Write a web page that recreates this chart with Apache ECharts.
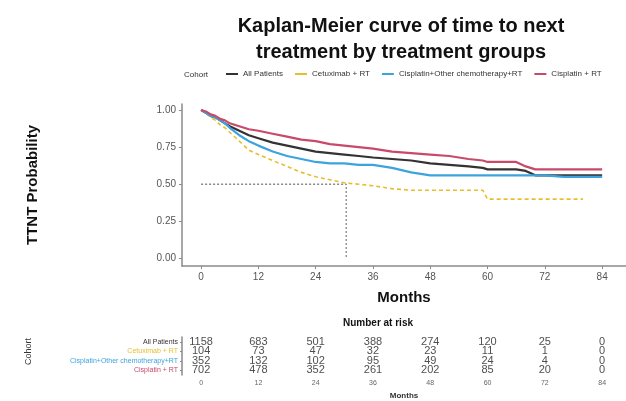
<!DOCTYPE html>
<html>
<head>
<meta charset="utf-8">
<script src="https://cdn.jsdelivr.net/npm/echarts@6/dist/echarts.min.js"></script>
<style>
  html, body { margin: 0; padding: 0; background: #fff; }
</style>
</head>
<body>
<div id="km" style="width: 626px; height: 401px"></div>
<script>
  // cohort names and colours
  const cohorts = ["All Patients", "Cetuximab + RT", "Cisplatin+Other chemotherapy+RT", "Cisplatin + RT"];
  const cohortColors = ["#333333", "#e6be2e", "#3ca3de", "#c84a6a"];

  // months where the curves are read
  const months = [0, 1, 2, 3, 4, 5, 6, 8, 10, 12, 15, 18, 21, 24, 27, 30, 33, 36, 40, 44, 48, 52, 56, 59, 60, 64, 66, 68, 70, 72, 76, 80, 84];
  const allPatients = [1, 0.98, 0.96, 0.95, 0.93, 0.91, 0.89, 0.86, 0.83, 0.81, 0.78, 0.76, 0.74, 0.72, 0.71, 0.70, 0.69, 0.68, 0.67, 0.66, 0.64, 0.63, 0.62, 0.61, 0.60, 0.60, 0.60, 0.59, 0.56, 0.56, 0.56, 0.56, 0.56];
  const cetuximab = [1, 0.98, 0.95, 0.93, 0.90, 0.88, 0.85, 0.79, 0.73, 0.70, 0.66, 0.62, 0.58, 0.55, 0.53, 0.51, 0.50, 0.49, 0.47, 0.46, 0.46, 0.46, 0.46, 0.46, 0.40, 0.40, 0.40, 0.40, 0.40, 0.40, 0.40, 0.40];
  const cisOther = [1, 0.98, 0.96, 0.95, 0.93, 0.91, 0.88, 0.83, 0.79, 0.76, 0.72, 0.69, 0.67, 0.65, 0.64, 0.64, 0.63, 0.63, 0.61, 0.58, 0.56, 0.56, 0.56, 0.56, 0.56, 0.56, 0.56, 0.56, 0.56, 0.56, 0.55, 0.55, 0.55];
  const cisplatin = [1, 0.99, 0.97, 0.96, 0.94, 0.93, 0.91, 0.89, 0.87, 0.86, 0.84, 0.82, 0.80, 0.79, 0.77, 0.76, 0.75, 0.74, 0.72, 0.71, 0.70, 0.69, 0.67, 0.66, 0.65, 0.65, 0.65, 0.62, 0.60, 0.60, 0.60, 0.60, 0.60];

  // median guide (dotted)
  const medianPts = [[0, 0.5], [30.4, 0.5], [30.4, 0]];

  // number at risk table
  const riskMonths = [0, 12, 24, 36, 48, 60, 72, 84];
  const riskAll = [1158, 683, 501, 388, 274, 120, 25, 0];
  const riskCetux = [104, 73, 47, 32, 23, 11, 1, 0];
  const riskCisOther = [352, 132, 102, 95, 49, 24, 4, 0];
  const riskCis = [702, 478, 352, 261, 202, 85, 20, 0];

  const xTicks = [0, 12, 24, 36, 48, 60, 72, 84];
  const yTicks = [0, 0.25, 0.5, 0.75, 1];

  const curves = [allPatients, cetuximab, cisOther, cisplatin];
  const risks = [riskAll, riskCetux, riskCisOther, riskCis];

  const font = "Liberation Sans";
  var myChart = echarts.init(document.getElementById("km"));

  var series = [];
  for (let i = 0; i < curves.length; i++) {
    let pts = [];
    for (let j = 0; j < curves[i].length; j++) {
      pts.push([months[j], curves[i][j]]);
    }
    series.push({
      name: cohorts[i],
      type: "line",
      symbol: "none",
      xAxisIndex: 0,
      yAxisIndex: 0,
      data: pts,
      z: 3 + i,
      lineStyle: {
        color: cohortColors[i],
        width: i == 1 ? 1.6 : 2.2,
        type: i == 1 ? [4, 3] : "solid",
      },
      itemStyle: { color: cohortColors[i] },
    });
  }
  series.push({
    type: "line",
    symbol: "none",
    xAxisIndex: 0,
    yAxisIndex: 0,
    data: medianPts,
    z: 2,
    lineStyle: { color: "#888", width: 1.3, type: [2, 2] },
    silent: true,
  });
  for (let i = 0; i < risks.length; i++) {
    let pts = [];
    for (let j = 0; j < riskMonths.length; j++) {
      pts.push([riskMonths[j], cohorts[i], risks[i][j]]);
    }
    series.push({
      type: "scatter",
      xAxisIndex: 1,
      yAxisIndex: 1,
      symbolSize: 0,
      data: pts,
      label: {
        show: true,
        position: "inside",
        formatter: (p) => String(p.value[2]),
        color: "#222",
        fontSize: 11,
        fontFamily: font,
      },
    });
  }

  myChart.setOption({
    animation: false,
    title: {
      text: "Kaplan-Meier curve of time to next\ntreatment by treatment groups",
      left: 396,
      top: 8,
      textAlign: "center",
      textStyle: { fontSize: 20, fontWeight: "bold", color: "#111", fontFamily: font, lineHeight: 26 },
    },
    legend: {
      data: cohorts,
      left: 226,
      top: 70,
      padding: 0,
      icon: "rect",
      itemWidth: 12,
      itemHeight: 2,
      itemGap: 12,
      textStyle: { fontSize: 8, color: "#333", fontFamily: font },
    },
    graphic: [
      {
        type: "text",
        left: 184,
        top: 71,
        style: { text: "Cohort", fontSize: 8, fill: "#333", fontFamily: font },
      },
      {
        type: "text",
        left: 343,
        top: 318,
        style: { text: "Number at risk", fontSize: 10, fontWeight: "bold", fill: "#111", fontFamily: font },
      },
      {
        type: "text",
        left: 24,
        top: 338,
        rotation: Math.PI / 2,
        style: { text: "Cohort", fontSize: 9, fill: "#333", fontFamily: font },
      },
    ],
    grid: [
      { left: 182, right: 0, top: 104, height: 162 },
      { left: 182, right: 0, top: 337, height: 43 },
    ],
    xAxis: [
      {
        gridIndex: 0,
        type: "value",
        min: -4,
        max: 89,
        name: "Months",
        nameLocation: "middle",
        nameGap: 24,
        nameTextStyle: { fontSize: 15, fontWeight: "bold", color: "#111", fontFamily: font },
        splitLine: { show: false },
        axisLine: { onZero: false, lineStyle: { color: "#8a8a8a", width: 1.5 } },
        axisTick: { customValues: xTicks, length: 3, lineStyle: { color: "#8a8a8a" } },
        axisLabel: { customValues: xTicks, fontSize: 10, color: "#555", margin: 6, fontFamily: font },
      },
      {
        gridIndex: 1,
        type: "value",
        min: -4,
        max: 89,
        name: "Months",
        nameLocation: "middle",
        nameGap: 17,
        nameTextStyle: { fontSize: 8, fontWeight: "bold", color: "#333", fontFamily: font },
        splitLine: { show: false },
        axisLine: { onZero: false, lineStyle: { color: "#8a8a8a", width: 1.5 } },
        axisTick: { customValues: xTicks, length: 2, lineStyle: { color: "#8a8a8a" } },
        axisLabel: { customValues: xTicks, fontSize: 7, color: "#666", margin: 5, fontFamily: font },
      },
    ],
    yAxis: [
      {
        gridIndex: 0,
        type: "value",
        min: -0.05,
        max: 1.04,
        name: "TTNT Probability",
        nameLocation: "middle",
        nameGap: 142,
        nameTextStyle: { fontSize: 15, fontWeight: "bold", color: "#111", fontFamily: font },
        splitLine: { show: false },
        axisLine: { show: true, onZero: false, lineStyle: { color: "#8a8a8a", width: 1.5 } },
        axisTick: { show: true, customValues: yTicks, length: 3, lineStyle: { color: "#8a8a8a" } },
        axisLabel: {
          customValues: yTicks,
          fontSize: 10,
          color: "#555",
          margin: 6,
          fontFamily: font,
          formatter: (v) => v.toFixed(2),
        },
      },
      {
        gridIndex: 1,
        type: "category",
        inverse: true,
        data: cohorts,
        axisLine: { show: true, onZero: false, lineStyle: { color: "#8a8a8a", width: 1.5 } },
        axisTick: { show: true, alignWithLabel: true, length: 2, lineStyle: { color: "#8a8a8a" } },
        axisLabel: {
          fontSize: 7,
          margin: 4,
          fontFamily: font,
          color: (v, idx) => cohortColors[cohorts.indexOf(v)],
        },
      },
    ],
    series: series,
  });
</script>
</body>
</html>
